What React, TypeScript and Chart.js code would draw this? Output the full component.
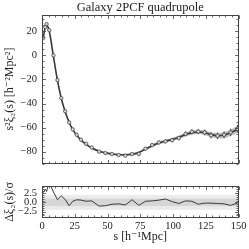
import React, { useEffect, useRef } from "react";
import { Chart, registerables } from "chart.js";
Chart.register(...registerables);

// ---------- data ----------
const sVals = [1, 2.5, 3.5, 5.5, 8.7, 11.8, 14.7, 17.7, 20.7, 23.5, 26.5, 29.8, 33.7, 38, 43.6, 48.4, 53.4, 58.5, 63.6, 68.8, 73.9, 79, 84.1, 89.2, 94.3, 99.4, 104.5, 109.6, 114.4, 119.3, 124.2, 129, 134, 139, 144, 149.2];
const dataVals = [14.5, 23.5, 26, 21, 0, -20.5, -35.5, -46.4, -55.7, -61.5, -66, -70, -73.5, -76.5, -80, -81.2, -82, -82.8, -83.3, -82, -81.9, -77.5, -74.5, -72.3, -71.5, -70.4, -68.7, -65.2, -63.5, -63.3, -64, -66.5, -66.8, -66, -64, -61];
const dataErr = [0.5, 0.5, 0.5, 0.5, 0.5, 0.5, 0.6, 0.6, 0.6, 0.6, 0.7, 0.7, 0.7, 0.8, 0.8, 0.9, 0.9, 1.0, 1.0, 1.1, 1.2, 1.3, 1.4, 1.5, 1.6, 1.7, 1.8, 2.0, 2.1, 2.2, 2.4, 2.5, 2.7, 2.9, 3.1, 3.3];
const modelVals = [15, 23.5, 25.5, 20.5, -0.5, -20.8, -35.6, -46.8, -55.5, -61.7, -66.4, -70.4, -74, -77, -79.6, -81, -81.9, -82.5, -82.6, -82.2, -80.6, -77.8, -75, -72.8, -71.2, -69.8, -68, -65.8, -64.2, -63.6, -64.2, -65.8, -66.8, -66.2, -64.2, -61.5];
const modelErr = [0.3, 0.3, 0.3, 0.3, 0.3, 0.3, 0.4, 0.4, 0.4, 0.4, 0.5, 0.5, 0.5, 0.6, 0.6, 0.7, 0.7, 0.8, 0.8, 0.9, 0.9, 1.0, 1.1, 1.2, 1.3, 1.4, 1.5, 1.6, 1.7, 1.8, 2.0, 2.1, 2.3, 2.5, 2.7, 2.9];
const residVals = [2.6, 3.5, 2.9, 5.5, 2.8, 0.7, 1.7, 0.8, -0.9, 0.3, 0.7, 0.6, 0.3, 0.4, -1.0, -0.9, -0.5, -0.4, -0.7, 0.7, -0.8, 0.3, 0.4, 0.6, 0.9, 0.2, -0.3, 0.4, 0.3, -0.5, -0.2, -0.2, -0.3, -0.4, -0.8, -0.2];

const xTicks = [0, 25, 50, 75, 100, 125, 150];
const xTickLabels = ["0", "25", "50", "75", "100", "125", "150"];
const yTicksMain = [-80, -60, -40, -20, 0, 20];
const yTickLabelsMain = ["\u221280", "\u221260", "\u221240", "\u221220", "0", "20"];
const yTicksResid = [-2.5, 0, 2.5];
const yTickLabelsResid = ["\u22122.5", "0.0", "2.5"];
const sigmaBands = [2, 1];

const TITLE = "Galaxy 2PCF quadrupole";
const Y_MAIN_TITLE = "s\u00B2\u03BE\u2082(s) [h\u207B\u00B2Mpc\u00B2]";
const Y_RES_TITLE = "\u0394\u03BE\u2082(s)/\u03C3";
const X_TITLE = "s [h\u207B\u00B9Mpc]";

const FONT = "'Liberation Serif', 'DejaVu Serif', serif";

function framePlugin(id: string, xMinor: number, yMinor: number, xMajors: number[], yMajors: number[]) {
  return {
    id,
    afterDraw(chart: any) {
      const { ctx, chartArea: a, scales } = chart;
      const xs = scales.x, ys = scales.y;
      ctx.save();
      ctx.strokeStyle = "#444";
      ctx.lineWidth = 1;
      const L = Math.round(a.left) + 0.5, R = Math.round(a.right) - 0.5;
      const T = Math.round(a.top) + 0.5, B = Math.round(a.bottom) - 0.5;
      ctx.strokeRect(L, T, R - L, B - T);
      ctx.lineWidth = 0.8;
      ctx.beginPath();
      const k0x = Math.ceil(xs.min / xMinor - 1e-9);
      for (let k = k0x; k * xMinor <= xs.max + 1e-9; k++) {
        const v = k * xMinor;
        const major = xMajors.some((m) => Math.abs(m - v) < 1e-9);
        const len = major ? 3.5 : 2;
        const px = Math.round(xs.getPixelForValue(v)) + 0.5;
        ctx.moveTo(px, B); ctx.lineTo(px, B - len);
        ctx.moveTo(px, T); ctx.lineTo(px, T + len);
      }
      const k0y = Math.ceil(ys.min / yMinor - 1e-9);
      for (let k = k0y; k * yMinor <= ys.max + 1e-9; k++) {
        const v = k * yMinor;
        const major = yMajors.some((m) => Math.abs(m - v) < 1e-9);
        const len = major ? 3.5 : 2;
        const py = Math.round(ys.getPixelForValue(v)) + 0.5;
        ctx.moveTo(L, py); ctx.lineTo(L + len, py);
        ctx.moveTo(R, py); ctx.lineTo(R - len, py);
      }
      ctx.stroke();
      ctx.restore();
    },
  };
}

const titlePlugin = {
  id: "centeredTitle",
  afterDraw(chart: any) {
    const { ctx, chartArea: a } = chart;
    ctx.save();
    ctx.fillStyle = "#222";
    ctx.font = `12.5px ${FONT}`;
    ctx.textAlign = "center";
    ctx.textBaseline = "middle";
    ctx.fillText(TITLE, (a.left + a.right) / 2, 7.5);
    ctx.restore();
  },
};

const errorBarPlugin = {
  id: "errbars",
  beforeDatasetDraw(chart: any, args: any) {
    if (args.index !== 0) return;
    const { ctx, scales } = chart;
    const xs = scales.x, ys = scales.y;
    ctx.save();
    const a = chart.chartArea;
    ctx.beginPath();
    ctx.rect(a.left, a.top, a.width, a.height);
    ctx.clip();
    ctx.strokeStyle = "#444";
    ctx.lineWidth = 1;
    ctx.beginPath();
    sVals.forEach((s, i) => {
      const px = xs.getPixelForValue(s);
      ctx.moveTo(px, ys.getPixelForValue(dataVals[i] - dataErr[i]));
      ctx.lineTo(px, ys.getPixelForValue(dataVals[i] + dataErr[i]));
    });
    ctx.stroke();
    ctx.restore();
  },
};

const bandPlugin = {
  id: "sigmabands",
  beforeDatasetsDraw(chart: any) {
    const { ctx, chartArea: a, scales } = chart;
    const ys = scales.y;
    ctx.save();
    const colors = ["#ebebeb", "#d6d6d6"];
    sigmaBands.forEach((b, i) => {
      const y1 = ys.getPixelForValue(b);
      const y2 = ys.getPixelForValue(-b);
      ctx.fillStyle = colors[i];
      ctx.fillRect(a.left, y1, a.width, y2 - y1);
    });
    ctx.restore();
  },
};

function MainChart() {
  const ref = useRef<HTMLCanvasElement | null>(null);
  useEffect(() => {
    if (!ref.current) return;
    const pts = (vals: number[]) => sVals.map((s, i) => ({ x: s, y: vals[i] }));
    const chart = new Chart(ref.current, {
      type: "line",
      data: {
        datasets: [
          {
            data: pts(dataVals),
            showLine: false,
            pointRadius: 1.7,
            pointBorderWidth: 0.8,
            pointBorderColor: "#444",
            pointBackgroundColor: "#d8d8d8",
            order: 0,
          },
          {
            data: pts(modelVals),
            borderColor: "#3a3a3a",
            borderWidth: 1.6,
            pointRadius: 0,
            tension: 0.3,
            order: 1,
          },
          {
            data: pts(modelVals.map((v, i) => v + modelErr[i])),
            borderWidth: 0,
            pointRadius: 0,
            fill: "+1",
            backgroundColor: "rgba(110,110,110,0.45)",
            tension: 0.3,
            order: 2,
          },
          {
            data: pts(modelVals.map((v, i) => v - modelErr[i])),
            borderWidth: 0,
            pointRadius: 0,
            fill: false,
            tension: 0.3,
            order: 3,
          },
        ],
      },
      options: {
        animation: false,
        responsive: false,
        layout: { padding: { left: 0, right: 10.5, top: 14.5, bottom: 5.5 } },
        plugins: {
          legend: { display: false },
          tooltip: { enabled: false },
          title: { display: false },
        },
        scales: {
          x: {
            type: "linear",
            display: false,
            min: 0,
            max: 150,
          },
          y: {
            type: "linear",
            min: -90,
            max: 34,
            grid: { display: false, drawTicks: false },
            border: { display: false },
            afterBuildTicks: (scale: any) => {
              scale.ticks = yTicksMain.map((v) => ({ value: v }));
            },
            afterFit: (scale: any) => {
              scale.width = 42;
            },
            ticks: {
              padding: 5,
              color: "#222",
              font: { family: FONT, size: 10.5 },
              callback: (v: any) => {
                const i = yTicksMain.indexOf(Number(v));
                return i >= 0 ? yTickLabelsMain[i] : "";
              },
            },
            title: {
              display: true,
              text: Y_MAIN_TITLE,
              color: "#222",
              font: { family: FONT, size: 12 },
              padding: { top: 3, bottom: 0 },
            },
          },
        },
      },
      plugins: [errorBarPlugin, titlePlugin, framePlugin("frameMain", 5, 5, xTicks, yTicksMain)],
    } as any);
    return () => chart.destroy();
  }, []);
  return <canvas ref={ref} width={249} height={175} style={{ position: "absolute", left: 0, top: 0, width: 249, height: 175 }} />;
}

function ResidChart() {
  const ref = useRef<HTMLCanvasElement | null>(null);
  useEffect(() => {
    if (!ref.current) return;
    const chart = new Chart(ref.current, {
      type: "line",
      data: {
        datasets: [
          {
            data: sVals.map((s, i) => ({ x: s, y: residVals[i] })),
            borderColor: "#3a3a3a",
            borderWidth: 1,
            pointRadius: 0,
            tension: 0,
          },
        ],
      },
      options: {
        animation: false,
        responsive: false,
        layout: { padding: { left: 0, right: 10.5, top: 4.3, bottom: 0 } },
        plugins: { legend: { display: false }, tooltip: { enabled: false } },
        scales: {
          x: {
            type: "linear",
            min: 0,
            max: 150,
            grid: { display: false, drawTicks: false },
            border: { display: false },
            afterBuildTicks: (scale: any) => {
              scale.ticks = xTicks.map((v) => ({ value: v }));
            },
            afterFit: (scale: any) => {
              scale.height = 31.3;
            },
            ticks: {
              padding: 2,
              maxRotation: 0,
              color: "#222",
              font: { family: FONT, size: 10.5 },
              callback: (v: any) => {
                const i = xTicks.indexOf(Number(v));
                return i >= 0 ? xTickLabels[i] : "";
              },
            },
            title: {
              display: true,
              text: X_TITLE,
              color: "#222",
              font: { family: FONT, size: 12 },
              padding: { top: 0, bottom: 4.5 },
            },
          },
          y: {
            type: "linear",
            min: -4.1,
            max: 4.3,
            grid: { display: false, drawTicks: false },
            border: { display: false },
            afterBuildTicks: (scale: any) => {
              scale.ticks = yTicksResid.map((v) => ({ value: v }));
            },
            afterFit: (scale: any) => {
              scale.width = 42;
            },
            ticks: {
              padding: 5,
              color: "#222",
              font: { family: FONT, size: 10.5 },
              callback: (v: any) => {
                const i = yTicksResid.indexOf(Number(v));
                return i >= 0 ? yTickLabelsResid[i] : "";
              },
            },
            title: {
              display: true,
              text: Y_RES_TITLE,
              color: "#222",
              font: { family: FONT, size: 12 },
              padding: { top: 3, bottom: 0 },
            },
          },
        },
      },
      plugins: [bandPlugin, framePlugin("frameRes", 5, 0.5, xTicks, yTicksResid)],
    } as any);
    return () => chart.destroy();
  }, []);
  return <canvas ref={ref} width={249} height={74} style={{ position: "absolute", left: 0, top: 175, width: 249, height: 74 }} />;
}

export default function App() {
  return (
    <div style={{ position: "fixed", left: 0, top: 0, width: 249, height: 249, background: "#fff" }}>
      <MainChart />
      <ResidChart />
    </div>
  );
}
